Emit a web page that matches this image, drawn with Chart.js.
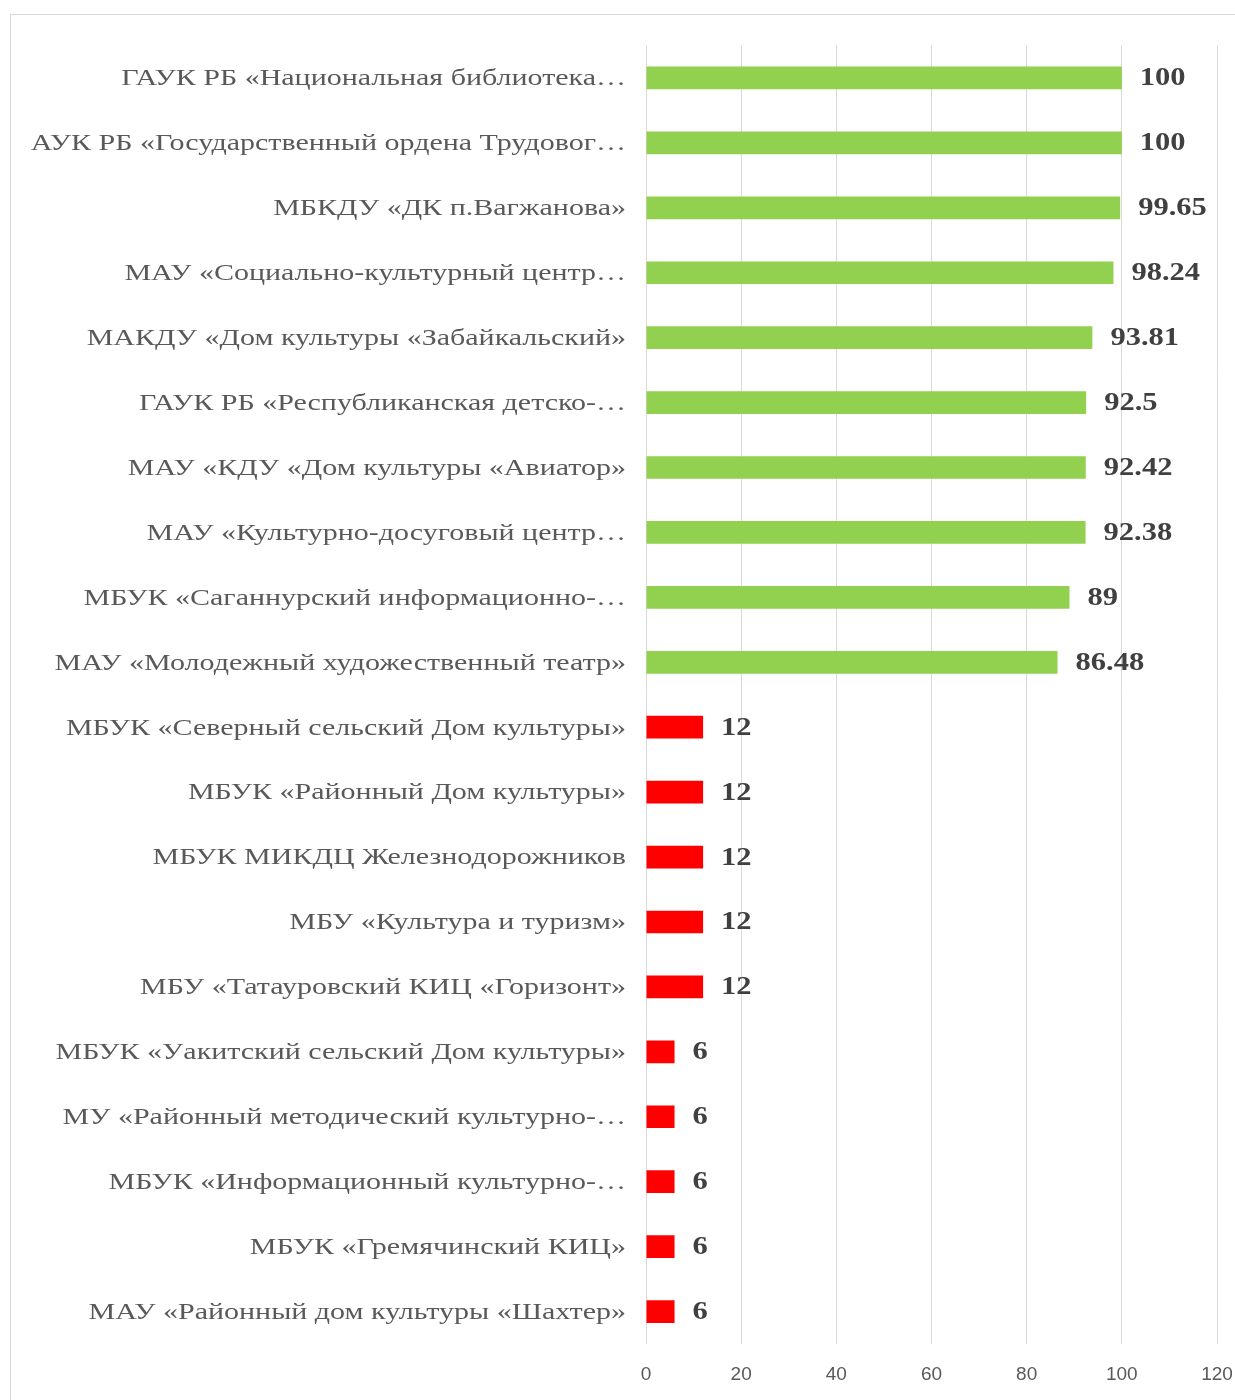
<!DOCTYPE html>
<html>
<head>
<meta charset="utf-8">
<script src="https://cdn.jsdelivr.net/npm/chart.js@4.4.1/dist/chart.umd.min.js"></script>
<style>
    html, body { margin: 0; padding: 0; background: #fff; }
    body { width: 1235px; height: 1400px; position: relative; overflow: hidden; }
    #frame { position: absolute; left: 10px; top: 14px; width: 1400px; height: 1500px; border: 1px solid #d9d9d9; box-sizing: border-box; }
    #wrap { position: absolute; left: 0; top: 0; width: 1235px; height: 1400px; }
</style>
</head>
<body>
<div id="frame"></div>
<div id="wrap"><canvas id="scoreChart"></canvas></div>
<script>
// Organisations, top to bottom
const categories = [
    "ГАУК РБ «Национальная библиотека…",
    "АУК РБ «Государственный ордена Трудовог…",
    "МБКДУ «ДК п.Вагжанова»",
    "МАУ «Социально-культурный центр…",
    "МАКДУ «Дом культуры «Забайкальский»",
    "ГАУК РБ «Республиканская детско-…",
    "МАУ «КДУ «Дом культуры «Авиатор»",
    "МАУ «Культурно-досуговый центр…",
    "МБУК «Саганнурский информационно-…",
    "МАУ «Молодежный художественный театр»",
    "МБУК «Северный сельский Дом культуры»",
    "МБУК «Районный Дом культуры»",
    "МБУК МИКДЦ Железнодорожников",
    "МБУ «Культура и туризм»",
    "МБУ «Татауровский КИЦ «Горизонт»",
    "МБУК «Уакитский сельский Дом культуры»",
    "МУ «Районный методический культурно-…",
    "МБУК «Информационный культурно-…",
    "МБУК «Гремячинский КИЦ»",
    "МАУ «Районный дом культуры «Шахтер»"
];
const scores = [100, 100, 99.65, 98.24, 93.81, 92.5, 92.42, 92.38, 89, 86.48, 12, 12, 12, 12, 12, 6, 6, 6, 6, 6];
const xTicks = [0, 20, 40, 60, 80, 100, 120];

const GREEN = '#92d050';
const RED = '#ff0000';
const barColors = scores.map(v => v >= 50 ? GREEN : RED);

// the source picture is stretched sideways, so text is widened to match
const SERIF = '"Liberation Serif", "Times New Roman", serif';

function wideText(ctx, text, x, y, stretch) {
    ctx.save();
    ctx.translate(x, y);
    ctx.scale(stretch, 1);
    ctx.fillText(text, 0, 0);
    ctx.restore();
}

// category names and value labels
const textLayer = {
    id: 'textLayer',
    afterDatasetsDraw(chart) {
        const ctx = chart.ctx;
        const yScale = chart.scales.y;
        const meta = chart.getDatasetMeta(0);
        ctx.save();
        ctx.textBaseline = 'middle';

        ctx.font = '24px ' + SERIF;
        ctx.fillStyle = '#595959';
        ctx.textAlign = 'right';
        categories.forEach((name, i) => {
            wideText(ctx, name, yScale.right - 20, yScale.getPixelForValue(i) + 1, 1.25);
        });

        ctx.font = 'bold 25px ' + SERIF;
        ctx.fillStyle = '#404040';
        ctx.textAlign = 'left';
        meta.data.forEach((bar, i) => {
            wideText(ctx, String(scores[i]), bar.x + 18, bar.y + 1, 1.22);
        });
        ctx.restore();
    }
};

const ctx = document.getElementById('scoreChart').getContext('2d');
new Chart(ctx, {
    type: 'bar',
    data: {
        labels: categories,
        datasets: [{
            data: scores,
            backgroundColor: barColors,
            borderWidth: 0,
            barPercentage: 0.35,
            categoryPercentage: 1
        }]
    },
    options: {
        indexAxis: 'y',
        responsive: true,
        maintainAspectRatio: false,
        animation: false,
        layout: { padding: { top: 45.5, right: 18, left: 0, bottom: 0 } },
        plugins: {
            legend: { display: false },
            tooltip: { enabled: false }
        },
        scales: {
            x: {
                min: 0,
                max: 120,
                afterBuildTicks: scale => { scale.ticks = xTicks.map(v => ({ value: v })); },
                afterFit: scale => {
                    scale.height = 56;
                    scale.paddingLeft = 0;
                    scale.paddingRight = 0;
                },
                grid: { color: '#d9d9d9', lineWidth: 1, drawTicks: false },
                border: { display: false },
                ticks: {
                    color: '#595959',
                    padding: 19,
                    font: { family: '"Liberation Sans", Arial, sans-serif', size: 19 }
                }
            },
            y: {
                afterFit: scale => { scale.width = 646; },
                grid: { display: false, drawTicks: false },
                border: { display: false },
                ticks: { display: false }
            }
        }
    },
    plugins: [textLayer]
});
</script>
</body>
</html>
